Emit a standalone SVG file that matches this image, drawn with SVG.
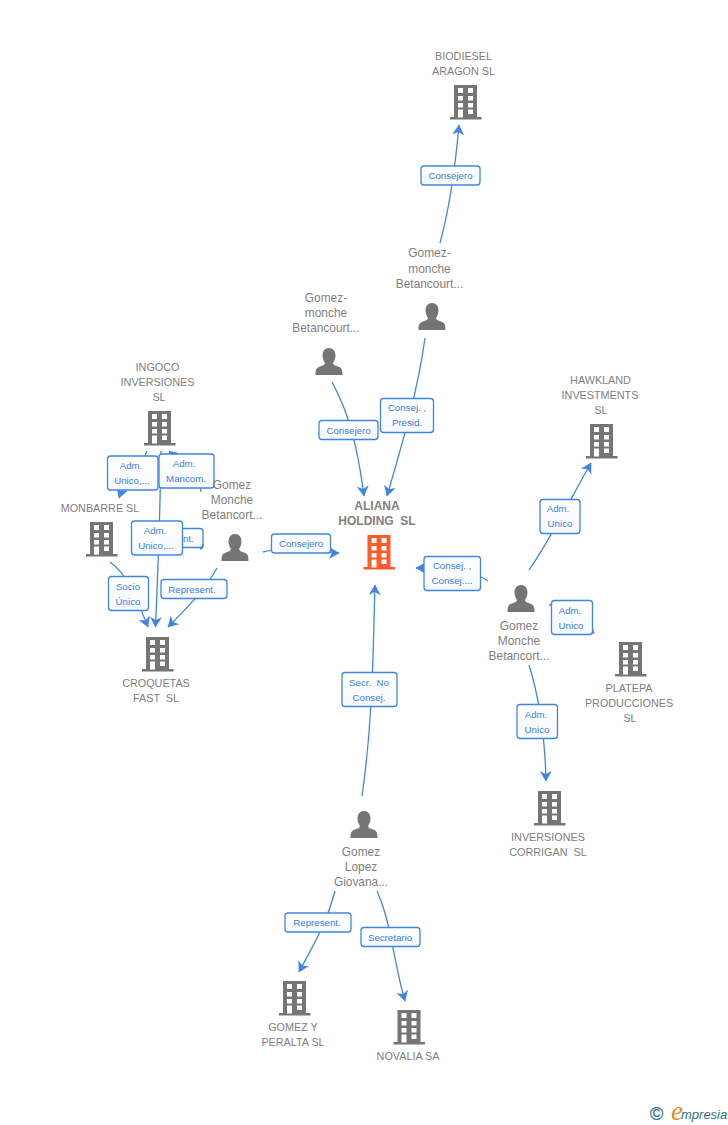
<svg xmlns="http://www.w3.org/2000/svg" width="728" height="1125" viewBox="0 0 728 1125">
<style>
text{white-space:pre}
.n{font:10.8px "Liberation Sans",Arial,sans-serif;fill:#808080;text-anchor:middle}
.p{font-size:11.9px}
.b{font-weight:bold;font-size:12px}
.l{font:9.7px "Liberation Sans",Arial,sans-serif;fill:#3a7fe0;text-anchor:middle}
.c{fill:none;stroke:#3f86e2;stroke-width:1.3}
.a{marker-end:url(#ar)}
.box{fill:url(#gr);stroke:#3f86e2;stroke-width:1.3}
</style>
<defs>
<linearGradient id="gr" x1="0" y1="0" x2="0" y2="1"><stop offset="0" stop-color="#ffffff"/><stop offset="1" stop-color="#f6f8fb"/></linearGradient>
<marker id="ar" viewBox="0 0 12 14" refX="10" refY="7" markerWidth="12" markerHeight="14" markerUnits="userSpaceOnUse" orient="auto"><path d="M0 1 L10.500 7 L0 13 L3 7Z" fill="#3f86e2"/></marker>
<symbol id="bld" viewBox="0 0 32 35" width="32" height="35" overflow="visible">
<path d="M4 0H27V32H31.500V34.500H0V32H4Z" fill="currentColor"/>
<path d="M8 3h5v5h-5zM18 3h5v5h-5zM8 11h5v4.500h-5zM18 11h5v4.500h-5zM8 18h5v4.500h-5zM18 18h5v4.500h-5zM18 24.500h5v4.500h-5zM8 24.500h5v8h-5z" fill="#fff"/>
</symbol>
<symbol id="per" viewBox="0 0 28 27" width="28" height="27" overflow="visible">
<path d="M14 0C18 0 20.500 3 20.500 7.500C20.500 11 19 13.500 18 15C18.500 17 20 17.500 23 18.500C26.500 19.700 27.500 21 27.500 27H0.500C0.500 21 1.500 19.700 5 18.500C8 17.500 9.500 17 10 15C9 13.500 7.500 11 7.500 7.500C7.500 3 10 0 14 0Z" fill="#757575"/>
</symbol>
</defs>
<g id="connectors">
<path class="c a" d="M440 243C449 210 455 170 459 125"/>
<path class="c a" d="M332 382C350 415 358 450 364 496"/>
<path class="c a" d="M425 338C418 390 402 445 387 496"/>
<path class="c a" d="M263 552C285 546 310 553 339 553"/>
<path class="c a" d="M362 796C373 720 373 650 375 585"/>
<path class="c a" d="M488 581C470 568 445 568 416 568"/>
<path class="c a" d="M529 570C550 540 570 500 591 463"/>
<path class="c" d="M549 605C568 603 590 615 594 634"/>
<path class="c a" d="M529 665C540 700 545 740 546 781"/>
<path class="c a" d="M335 891C327 922 315 942 299 972"/>
<path class="c a" d="M377 891C392 925 393 960 405 1001"/>
<path class="c a" d="M217 568C205 590 185 610 168 627"/>
<path class="c a" d="M110 562C128 575 135 595 148 627"/>
<path class="c a" d="M161 451C160 520 158 570 155.500 627"/>
<path class="c a" d="M147 451C140 470 125 480 119 498"/>
<path class="c" d="M201 492C200 475 190 458 172 456"/>
<path d="M169 451L177 452.500V455H169Z" fill="#3f86e2"/>
<path class="c" d="M200 549C202 549 204 547 203 544"/>
</g>
<g id="labels">
<g><rect class="box" x="421" y="166" width="59" height="19" rx="3"/><text class="l" x="450.500" y="179">Consejero</text></g>
<g><rect class="box" x="380.500" y="398.500" width="53" height="34" rx="3"/><text class="l" x="407" y="411">Consej. ,</text><text class="l" x="407" y="426">Presid.</text></g>
<g><rect class="box" x="319" y="420.500" width="59" height="19" rx="3"/><text class="l" x="348.500" y="434">Consejero</text></g>
<g><rect class="box" x="271.500" y="534" width="59" height="19" rx="3"/><text class="l" x="301" y="547">Consejero</text></g>
<g><rect class="box" x="137" y="528.500" width="66" height="19" rx="3"/><text class="l" x="170" y="542">Represent.</text></g>
<g><rect class="box" x="107.500" y="456" width="50.500" height="34" rx="3"/><text class="l" x="131" y="469">Adm.</text><text class="l" x="132" y="484">Unico,...</text></g>
<g><rect class="box" x="159" y="454" width="55" height="34" rx="3"/><text class="l" x="184" y="467">Adm.</text><text class="l" x="186" y="482">Mancom.</text></g>
<g><rect class="box" x="131.500" y="521" width="51" height="34" rx="3"/><text class="l" x="155" y="534">Adm.</text><text class="l" x="156" y="549">Unico,...</text></g>
<g><rect class="box" x="108.500" y="576.500" width="40" height="34" rx="3"/><text class="l" x="128" y="590">Socio</text><text class="l" x="128" y="605">Único</text></g>
<g><rect class="box" x="161" y="579.500" width="66" height="19" rx="3"/><text class="l" x="192" y="593">Represent.</text></g>
<g><rect class="box" x="424" y="556.500" width="56.500" height="34" rx="3"/><text class="l" x="452" y="569">Consej. ,</text><text class="l" x="452" y="584">Consej....</text></g>
<g><rect class="box" x="540" y="499.500" width="40" height="34" rx="3"/><text class="l" x="558" y="512">Adm.</text><text class="l" x="560" y="527">Unico</text></g>
<g><rect class="box" x="551.500" y="600.500" width="41" height="34" rx="3"/><text class="l" x="570" y="614">Adm.</text><text class="l" x="571" y="629">Unico</text></g>
<g><rect class="box" x="517" y="704.500" width="40.500" height="34" rx="3"/><text class="l" x="536" y="718">Adm.</text><text class="l" x="537" y="733">Unico</text></g>
<g><rect class="box" x="342" y="672.500" width="55" height="34" rx="3"/><text class="l" x="369" y="686">Secr.  No</text><text class="l" x="369" y="701">Consej.</text></g>
<g><rect class="box" x="285" y="913" width="66" height="19" rx="3"/><text class="l" x="317" y="926">Represent.</text></g>
<g><rect class="box" x="361" y="927.500" width="59" height="19" rx="3"/><text class="l" x="390" y="941">Secretario</text></g>
</g>
<g id="biodiesel" color="#757575"><text class="n" x="463.500" y="60">BIODIESEL</text><text class="n" x="463.500" y="75">ARAGON SL</text><use href="#bld" x="450" y="85"/></g>
<g id="person-top"><text class="n p" x="429.500" y="257">Gomez-</text><text class="n p" x="429.500" y="273">monche</text><text class="n p" x="429.500" y="288">Betancourt...</text><use href="#per" x="418" y="303"/></g>
<g id="person-left"><text class="n p" x="326" y="302">Gomez-</text><text class="n p" x="326" y="317">monche</text><text class="n p" x="326" y="332">Betancourt...</text><use href="#per" x="315" y="348"/></g>
<g id="hawkland" color="#757575"><text class="n" x="600.500" y="384">HAWKLAND</text><text class="n" x="600" y="399">INVESTMENTS</text><text class="n" x="601" y="414">SL</text><use href="#bld" x="586" y="424"/></g>
<g id="ingoco" color="#757575"><text class="n" x="157.500" y="371">INGOCO</text><text class="n" x="157.500" y="386">INVERSIONES</text><text class="n" x="159" y="401">SL</text><use href="#bld" x="144" y="411"/></g>
<g id="monbarre" color="#757575"><text class="n" x="100" y="512">MONBARRE SL</text><use href="#bld" x="86" y="522"/></g>
<g id="person-centre"><text class="n p" x="232" y="489">Gomez</text><text class="n p" x="232" y="504">Monche</text><text class="n p" x="232" y="519">Betancort...</text><use href="#per" x="221" y="534"/></g>
<g id="aliana" color="#ff5a2b"><text class="n b" x="377" y="510">ALIANA</text><text class="n b" x="377" y="525">HOLDING  SL</text><use href="#bld" x="363.500" y="535"/></g>
<g id="person-right"><use href="#per" x="507" y="585"/><text class="n p" x="519" y="630">Gomez</text><text class="n p" x="519" y="645">Monche</text><text class="n p" x="519" y="660">Betancort...</text></g>
<g id="platepa" color="#757575"><use href="#bld" x="615" y="642"/><text class="n" x="629" y="692">PLATEPA</text><text class="n" x="629" y="707">PRODUCCIONES</text><text class="n" x="630" y="722">SL</text></g>
<g id="croquetas" color="#757575"><use href="#bld" x="142" y="637"/><text class="n" x="156" y="687">CROQUETAS</text><text class="n" x="156" y="702">FAST  SL</text></g>
<g id="inversiones" color="#757575"><use href="#bld" x="534" y="791"/><text class="n" x="548" y="841">INVERSIONES</text><text class="n" x="548" y="856">CORRIGAN  SL</text></g>
<g id="person-lopez"><use href="#per" x="350" y="811"/><text class="n p" x="361" y="856">Gomez</text><text class="n p" x="361" y="871">Lopez</text><text class="n p" x="361" y="886">Giovana...</text></g>
<g id="gomez-peralta" color="#757575"><use href="#bld" x="279" y="981"/><text class="n" x="293" y="1031">GOMEZ Y</text><text class="n" x="293" y="1046">PERALTA SL</text></g>
<g id="novalia" color="#757575"><use href="#bld" x="393.500" y="1010"/><text class="n" x="408" y="1060">NOVALIA SA</text></g>
<g id="logo"><text x="650" y="1120" style="font:18px 'Liberation Sans',Arial,sans-serif;fill:#2f7287;stroke:#2f7287;stroke-width:.3">©</text><text x="671" y="1120" style="font:italic 27px 'Liberation Serif',serif;fill:#f08a1e">e</text><text x="681" y="1119" style="font:italic 13px 'Liberation Sans',Arial,sans-serif;fill:#2f6f85">mpresia</text></g>
</svg>
